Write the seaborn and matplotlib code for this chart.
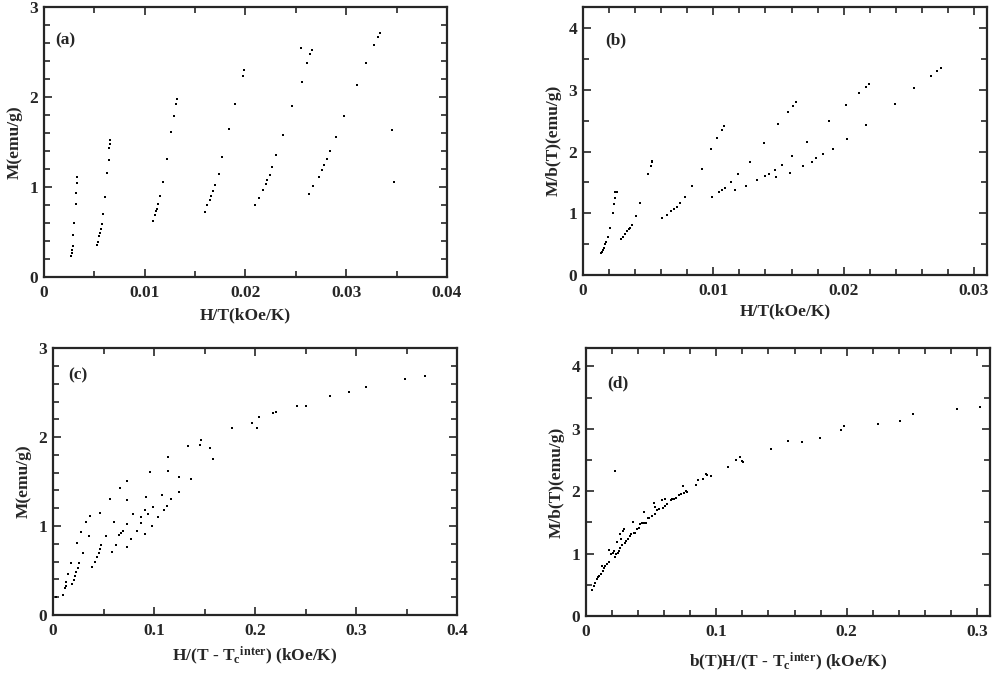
import numpy as np
import pandas as pd
import matplotlib
matplotlib.use('Agg')
import matplotlib.pyplot as plt
from matplotlib.ticker import MultipleLocator
import seaborn as sns

# values
# (a) M vs H/T, six temperature runs
a_x = [0.00271, 0.00275, 0.00281, 0.00285, 0.00291, 0.00301, 0.00315, 0.00318, 0.00324, 0.00324,
       0.00529, 0.00536, 0.00549, 0.00556, 0.00563, 0.00573, 0.00586, 0.00602, 0.00629, 0.00642,
       0.00649, 0.00652, 0.00652,
       0.01085, 0.01102, 0.01108, 0.01118, 0.01132, 0.01148, 0.01178, 0.01221, 0.01257, 0.01287,
       0.01313, 0.01323,
       0.01598, 0.01621, 0.01644, 0.01654, 0.01674, 0.01697, 0.01733, 0.01766, 0.01836, 0.01899,
       0.01979, 0.01985,
       0.02094, 0.02134, 0.02171, 0.02203, 0.02217, 0.02243, 0.02266, 0.02306, 0.02369, 0.02465,
       0.02558, 0.02610, 0.02640, 0.02660, 0.02551,
       0.02630, 0.02673, 0.02726, 0.02763, 0.02779, 0.02806, 0.02842, 0.02895, 0.02981, 0.03110,
       0.03196, 0.03276, 0.03315, 0.03335, 0.03451, 0.03471]
a_y = [0.234, 0.264, 0.30, 0.345, 0.47, 0.60, 0.81, 0.93, 1.04, 1.11,
       0.357, 0.39, 0.457, 0.49, 0.53, 0.59, 0.70, 0.89, 1.15, 1.30,
       1.43, 1.48, 1.52,
       0.624, 0.69, 0.73, 0.755, 0.81, 0.90, 1.05, 1.31, 1.61, 1.79,
       1.92, 1.98,
       0.717, 0.80, 0.86, 0.895, 0.95, 1.025, 1.14, 1.33, 1.64, 1.925,
       2.23, 2.30,
       0.795, 0.877, 0.967, 1.033, 1.078, 1.137, 1.22, 1.356, 1.575, 1.895,
       2.166, 2.37, 2.475, 2.52, 2.54,
       0.925, 1.014, 1.115, 1.19, 1.245, 1.31, 1.40, 1.55, 1.79, 2.13,
       2.38, 2.57, 2.66, 2.705, 1.63, 1.06]

# (b) M/b(T) vs H/T
b_x = [0.00138, 0.00146, 0.00154, 0.00162, 0.00172, 0.00177, 0.00192, 0.00208, 0.00228, 0.00236,
       0.00246, 0.00249, 0.00259,
       0.00292, 0.00305, 0.00325, 0.00338, 0.00351, 0.00364, 0.00377, 0.00408, 0.00441, 0.00500,
       0.00518, 0.00528, 0.00533,
       0.00603, 0.00646, 0.00677, 0.00697, 0.00718, 0.00744, 0.00782, 0.00838, 0.00910, 0.00982,
       0.01031, 0.01064, 0.01082,
       0.00987, 0.01044, 0.01064, 0.01090, 0.01138, 0.01192, 0.01279, 0.01390, 0.01500, 0.01572,
       0.01615, 0.01636,
       0.01164, 0.01254, 0.01338, 0.01395, 0.01424, 0.01470, 0.01528, 0.01603, 0.01721, 0.01885,
       0.02020, 0.02118, 0.02169, 0.02195,
       0.01480, 0.01585, 0.01685, 0.01754, 0.01790, 0.01841, 0.01915, 0.02025, 0.02174, 0.02392,
       0.02541, 0.02669, 0.02718, 0.02746]
b_y = [0.352, 0.38, 0.407, 0.434, 0.505, 0.533, 0.615, 0.77, 1.01, 1.15,
       1.254, 1.34, 1.35,
       0.577, 0.615, 0.67, 0.708, 0.74, 0.762, 0.817, 0.954, 1.16, 1.636,
       1.762, 1.828, 1.855,
       0.926, 0.98, 1.036, 1.07, 1.10, 1.172, 1.27, 1.446, 1.724, 2.036,
       2.226, 2.347, 2.418,
       1.27, 1.34, 1.38, 1.418, 1.516, 1.636, 1.833, 2.144, 2.446, 2.636,
       2.746, 2.81,
       1.38, 1.451, 1.533, 1.607, 1.644, 1.708, 1.79, 1.926, 2.15, 2.495,
       2.762, 2.954, 3.046, 3.10,
       1.585, 1.659, 1.762, 1.833, 1.90, 1.954, 2.046, 2.20, 2.43, 2.779,
       3.03, 3.22, 3.30, 3.35]

# (c) M vs H/(T - Tc_inter)
c_x = [0.0033, 0.0099, 0.0116, 0.0125, 0.0132, 0.0152, 0.0182, 0.0191, 0.0205, 0.0218,
       0.0231, 0.0244, 0.0257, 0.0238, 0.0274, 0.0300, 0.0330, 0.0356, 0.0363, 0.0386,
       0.0419, 0.0439, 0.0452, 0.0469, 0.0479, 0.0469, 0.0521, 0.0564, 0.0584, 0.0600,
       0.0624, 0.0650, 0.0663, 0.0677, 0.0693, 0.0733, 0.0733, 0.0736, 0.0736, 0.0776,
       0.0795, 0.0828, 0.0868, 0.0875, 0.0908, 0.0914, 0.0917, 0.0941, 0.0957, 0.0977,
       0.0990, 0.1043, 0.1082, 0.1096, 0.1129, 0.1139, 0.1139, 0.1172, 0.1244, 0.1248,
       0.1370, 0.1337, 0.1452, 0.1469, 0.1558, 0.1584, 0.1772, 0.1967, 0.2020, 0.2040,
       0.2181, 0.2208, 0.2419, 0.2502, 0.2746, 0.2934, 0.3099, 0.3485, 0.3683]
c_y = [0.199, 0.225, 0.30, 0.33, 0.374, 0.457, 0.588, 0.348, 0.393, 0.438,
       0.48, 0.525, 0.588, 0.805, 0.933, 0.693, 1.049, 0.888, 1.112, 0.536,
       0.596, 0.655, 0.70, 0.738, 0.787, 1.15, 0.888, 1.307, 0.704, 1.049,
       0.787, 0.899, 1.43, 0.92, 0.947, 1.019, 0.76, 1.296, 1.502, 0.85,
       1.131, 0.94, 1.034, 1.105, 1.18, 0.906, 1.33, 1.135, 1.603, 1.0,
       1.213, 1.105, 1.348, 1.176, 1.228, 1.622, 1.779, 1.30, 1.378, 1.554,
       1.528, 1.899, 1.91, 1.966, 1.873, 1.753, 2.105, 2.157, 2.105, 2.221,
       2.273, 2.28, 2.352, 2.352, 2.461, 2.509, 2.558, 2.652, 2.689]

# (d) M/b(T) vs b(T)H/(T - Tc_inter)
d_x = [0.0046, 0.0059, 0.0072, 0.0085, 0.0092, 0.0103, 0.0113, 0.0123, 0.0128, 0.0136,
       0.0149, 0.0162, 0.0174, 0.0180, 0.0195, 0.0205, 0.0213, 0.0221, 0.0226, 0.0231,
       0.0239, 0.0246, 0.0251, 0.0259, 0.0264, 0.0272, 0.0277, 0.0285, 0.0290, 0.0298,
       0.0308, 0.0323, 0.0336, 0.0349, 0.0359, 0.0367, 0.0374, 0.0392, 0.0405, 0.0418,
       0.0426, 0.0444, 0.0444, 0.0457, 0.0477, 0.0487, 0.0503, 0.0521, 0.0528, 0.0533,
       0.0546, 0.0559, 0.0580, 0.0590, 0.0605, 0.0610, 0.0623, 0.0649, 0.0662, 0.0674,
       0.0692, 0.0713, 0.0726, 0.0744, 0.0751, 0.0764, 0.0777, 0.0841, 0.0862, 0.0898,
       0.0918, 0.0931, 0.0957, 0.1092, 0.1149, 0.1180, 0.1195, 0.1205, 0.1423, 0.1551,
       0.1659, 0.1795, 0.1954, 0.1982, 0.2243, 0.2410, 0.2512, 0.2846, 0.3025]
d_y = [0.412, 0.481, 0.535, 0.588, 0.631, 0.645, 0.668, 0.80, 0.72, 0.775,
       0.80, 0.828, 0.866, 1.053, 0.989, 1.016, 1.043, 2.324, 0.952, 0.989,
       1.186, 1.016, 1.043, 1.32, 1.096, 1.24, 1.133, 1.362, 1.389, 1.165,
       1.202, 1.24, 1.282, 1.309, 1.506, 1.325, 1.336, 1.389, 1.416, 1.469,
       1.496, 1.667, 1.487, 1.496, 1.566, 1.576, 1.603, 1.806, 1.753, 1.63,
       1.699, 1.72, 1.859, 1.737, 1.87, 1.763, 1.79, 1.859, 1.881, 1.87,
       1.897, 1.934, 1.95, 2.083, 1.978, 2.004, 1.99, 2.095, 2.18, 2.19,
       2.271, 2.255, 2.244, 2.394, 2.50, 2.554, 2.484, 2.468, 2.671, 2.805,
       2.79, 2.848, 2.981, 3.045, 3.072, 3.125, 3.237, 3.318, 3.35]

panel_tags = ['(a)', '(b)', '(c)', '(d)']
x_labels = ['H/T(kOe/K)', 'H/T(kOe/K)',
            r'H/(T - T$_c$$^{inter}$) (kOe/K)',
            r'b(T)H/(T - T$_c$$^{inter}$) (kOe/K)']
y_labels = ['M(emu/g)', 'M/b(T)(emu/g)', 'M(emu/g)', 'M/b(T)(emu/g)']

sns.set_style('ticks')
plt.rcParams['font.family'] = ['Liberation Serif', 'DejaVu Serif']
plt.rcParams['font.weight'] = 'bold'
plt.rcParams['axes.labelweight'] = 'bold'
plt.rcParams['mathtext.fontset'] = 'custom'
plt.rcParams['mathtext.rm'] = 'Liberation Serif:bold'
plt.rcParams['mathtext.it'] = 'Liberation Serif:bold'
plt.rcParams['mathtext.default'] = 'rm'

fig = plt.figure(figsize=(10, 6.74), dpi=100)
boxes = [[0.044, 0.589, 0.403, 0.401],
         [0.583, 0.592, 0.404, 0.398],
         [0.053, 0.0875, 0.404, 0.396],
         [0.586, 0.086, 0.404, 0.398]]
data = [(a_x, a_y), (b_x, b_y), (c_x, c_y), (d_x, d_y)]
xlims = [(0, 0.04), (0, 0.031), (0, 0.4), (0, 0.31)]
ylims = [(0, 3), (0, 4.35), (0, 3), (0, 4.3)]
x_major = [0.01, 0.01, 0.1, 0.1]
x_minor = [0.005, 0.002, 0.05, 0.02]
y_minor = [0.2, 0.5, 0.2, 0.5]
tag_pos = [(0.027, 0.875), (0.054, 0.873), (0.037, 0.897), (0.052, 0.866)]
x_pads = [4, 3, 4, 7]

for i in range(4):
    ax = fig.add_axes(boxes[i])
    df = pd.DataFrame({'x': data[i][0], 'y': data[i][1]})
    sns.scatterplot(data=df, x='x', y='y', ax=ax, color='black', marker='s',
                    s=4.5, linewidth=0, legend=False)
    ax.xaxis.set_major_locator(MultipleLocator(x_major[i]))
    ax.xaxis.set_minor_locator(MultipleLocator(x_minor[i]))
    ax.yaxis.set_major_locator(MultipleLocator(1))
    ax.yaxis.set_minor_locator(MultipleLocator(y_minor[i]))
    ax.set_xlim(*xlims[i])
    ax.set_ylim(*ylims[i])
    ticks = [t for t in ax.get_xticks() if t <= xlims[i][1] + 1e-9]
    ax.set_xticks(ticks)
    ax.set_xticklabels(['0' if abs(t) < 1e-12 else f'{t:g}' for t in ticks])
    ax.set_xlim(*xlims[i])
    ax.tick_params(which='both', direction='in', top=True, right=True,
                   labelsize=12.5, width=1.2)
    ax.tick_params(which='major', length=6)
    ax.tick_params(axis='x', which='major', pad=6)
    ax.tick_params(axis='y', which='major', pad=4)
    ax.tick_params(which='minor', length=4)
    for sp in ax.spines.values():
        sp.set_linewidth(1.6)
    ax.set_xlabel(x_labels[i], fontsize=12.5, labelpad=x_pads[i])
    ax.set_ylabel(y_labels[i], fontsize=12.5, labelpad=5)
    ax.text(tag_pos[i][0], tag_pos[i][1], panel_tags[i], transform=ax.transAxes,
            fontsize=12.5, fontweight='bold', va='center', ha='left')

plt.savefig('out.png', dpi=100)
